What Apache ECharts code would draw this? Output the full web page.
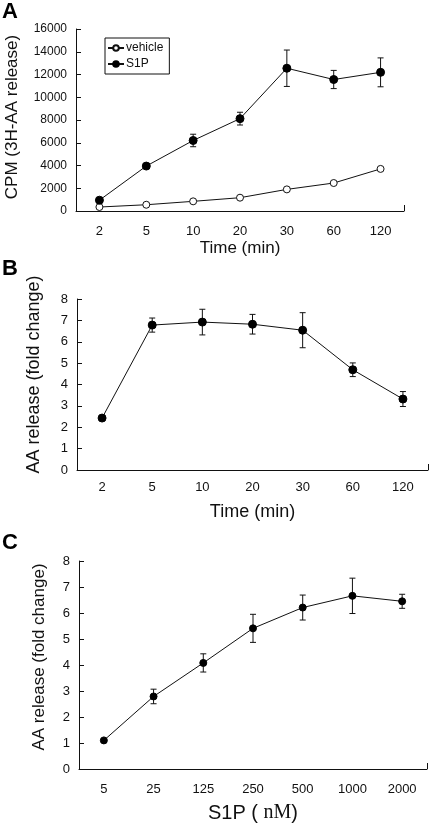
<!DOCTYPE html>
<html>
<head>
<meta charset="utf-8">
<script src="https://cdn.jsdelivr.net/npm/echarts@6/dist/echarts.min.js"></script>
<style>
html,body{margin:0;padding:0;background:#fff;}
#c{width:432px;height:836px;}
</style>
</head>
<body>
<div id="c"></div>
<script>
// Panel A
const timeCats = ['2', '5', '10', '20', '30', '60', '120'];
const vehicleA = [350, 550, 850, 1170, 1900, 2460, 3700];
const s1pA = [950, 3950, 6200, 8120, 12550, 11560, 12190];
const s1pAErr = [100, 150, 550, 560, 1600, 800, 1270];
// Panel B
const foldB = [2.43, 6.78, 6.92, 6.82, 6.54, 4.69, 3.32];
const foldBErr = [0.05, 0.33, 0.6, 0.46, 0.82, 0.32, 0.35];
// Panel C
const doseCats = ['5', '25', '125', '250', '500', '1000', '2000'];
const foldC = [1.1, 2.79, 4.08, 5.41, 6.21, 6.66, 6.45];
const foldCErr = [0.05, 0.28, 0.35, 0.54, 0.48, 0.68, 0.27];

const FONT = 'Liberation Sans, Arial, sans-serif';
const INK = '#111';

function errData(vals, errs) {
  return vals.map((v, i) => [i, v - errs[i], v + errs[i]]);
}
function errSeries(vals, errs, xi, yi) {
  return {
    type: 'custom',
    xAxisIndex: xi, yAxisIndex: yi,
    silent: true, z: 1,
    data: errData(vals, errs),
    renderItem: function (params, api) {
      const x = api.value(0);
      const lo = api.coord([x, api.value(1)]);
      const hi = api.coord([x, api.value(2)]);
      const w = 3;
      const st = { stroke: INK, lineWidth: 1 };
      return {
        type: 'group',
        children: [
          { type: 'line', shape: { x1: lo[0], y1: lo[1], x2: hi[0], y2: hi[1] }, style: st },
          { type: 'line', shape: { x1: lo[0] - w, y1: lo[1], x2: lo[0] + w, y2: lo[1] }, style: st },
          { type: 'line', shape: { x1: hi[0] - w, y1: hi[1], x2: hi[0] + w, y2: hi[1] }, style: st }
        ]
      };
    }
  };
}

function catAxis(gi, cats, name, nameGap, nameSize, labelSize, labelMargin, nameExtra) {
  return {
    type: 'category', gridIndex: gi, data: cats, boundaryGap: true,
    name: name, nameLocation: 'middle', nameGap: nameGap,
    nameTextStyle: Object.assign({ fontFamily: FONT, fontSize: nameSize, color: INK }, nameExtra || {}),
    axisLine: { lineStyle: { color: INK, width: 1 } },
    axisTick: { alignWithLabel: true, inside: true, length: 6, lineStyle: { color: INK } },
    axisLabel: { fontFamily: FONT, fontSize: labelSize, color: INK, margin: labelMargin },
    splitLine: { show: false }
  };
}
function endAxis(gi) {
  return {
    type: 'value', gridIndex: gi, min: 0, max: 7, interval: 7, position: 'bottom',
    axisLine: { show: false },
    axisTick: { show: true, inside: true, length: 6, lineStyle: { color: INK } },
    axisLabel: { show: false }, splitLine: { show: false }
  };
}
function valAxis(gi, max, interval, name, nameGap, nameSize, labelSize, shiftUp) {
  return {
    type: 'value', gridIndex: gi, min: 0, max: max, interval: interval,
    name: name, nameLocation: 'middle', nameGap: nameGap,
    nameTextStyle: { fontFamily: FONT, fontSize: nameSize, color: INK, padding: [0, 0, 0, shiftUp * 2] },
    axisLine: { show: true, lineStyle: { color: INK, width: 1 } },
    axisTick: { show: true, inside: true, length: 5, lineStyle: { color: INK } },
    axisLabel: { fontFamily: FONT, fontSize: labelSize, color: INK, margin: 9, formatter: function (v) { return String(v); } },
    splitLine: { show: false }
  };
}

const chart = echarts.init(document.getElementById('c'), null, { renderer: 'canvas' });
chart.setOption({
  backgroundColor: '#fff',
  animation: false,
  textStyle: { fontFamily: FONT },
  graphic: [
    { type: 'text', left: 2, top: 1, style: { text: 'A', font: 'bold 22px ' + FONT, fill: '#000' } },
    { type: 'text', left: 2, top: 258, style: { text: 'B', font: 'bold 22px ' + FONT, fill: '#000' } },
    { type: 'text', left: 2, top: 532, style: { text: 'C', font: 'bold 22px ' + FONT, fill: '#000' } }
  ],
  grid: [
    { left: 76, width: 328, top: 29, height: 182, outerBoundsMode: 'none', containLabel: false },
    { left: 77, width: 351, top: 299, height: 171, outerBoundsMode: 'none', containLabel: false },
    { left: 79, width: 348, top: 561, height: 208, outerBoundsMode: 'none', containLabel: false }
  ],
  legend: {
    left: 105, top: 38, width: 64, orient: 'vertical',
    padding: [4, 6, 4, 2], itemGap: 4, itemWidth: 16, itemHeight: 7,
    borderColor: INK, borderWidth: 1,
    textStyle: { fontFamily: FONT, fontSize: 12, color: INK, padding: [0, 0, 0, -3] },
    data: ['vehicle', 'S1P']
  },
  xAxis: [
    catAxis(0, timeCats, 'Time (min)', 29, 17, 13, 14),
    catAxis(1, timeCats, 'Time (min)', 33, 18, 13, 11),
    catAxis(2, doseCats, '{a|S1P ( }{b|nM}{a|)}', 34, 20, 13, 14, {
      rich: {
        a: { fontFamily: FONT, fontSize: 20, color: INK },
        b: { fontFamily: 'Liberation Serif, Times New Roman, serif', fontSize: 20, color: INK }
      }
    }),
    endAxis(0), endAxis(1), endAxis(2)
  ],
  yAxis: [
    valAxis(0, 16000, 2000, 'CPM (3H-AA release)', 55, 17, 12, 3),
    valAxis(1, 8, 1, 'AA release (fold change)', 34, 18, 13, 10),
    valAxis(2, 8, 1, 'AA release (fold change)', 31, 17, 13, 8)
  ],
  series: [
    errSeries(s1pA, s1pAErr, 0, 0),
    {
      name: 'vehicle', type: 'line', xAxisIndex: 0, yAxisIndex: 0, data: vehicleA,
      symbol: 'circle', symbolSize: 7, z: 3,
      lineStyle: { color: INK, width: 1 },
      itemStyle: { color: '#fff', borderColor: INK, borderWidth: 1 }
    },
    {
      name: 'S1P', type: 'line', xAxisIndex: 0, yAxisIndex: 0, data: s1pA,
      symbol: 'circle', symbolSize: 8, z: 3,
      lineStyle: { color: INK, width: 1 },
      itemStyle: { color: '#000', borderColor: '#000', borderWidth: 1 }
    },
    errSeries(foldB, foldBErr, 1, 1),
    {
      name: 'B', type: 'line', xAxisIndex: 1, yAxisIndex: 1, data: foldB,
      symbol: 'circle', symbolSize: 8, z: 3,
      lineStyle: { color: INK, width: 1 },
      itemStyle: { color: '#000', borderColor: '#000', borderWidth: 1 }
    },
    errSeries(foldC, foldCErr, 2, 2),
    {
      name: 'C', type: 'line', xAxisIndex: 2, yAxisIndex: 2, data: foldC,
      symbol: 'circle', symbolSize: 7, z: 3,
      lineStyle: { color: INK, width: 1 },
      itemStyle: { color: '#000', borderColor: '#000', borderWidth: 1 }
    }
  ]
});
</script>
</body>
</html>
